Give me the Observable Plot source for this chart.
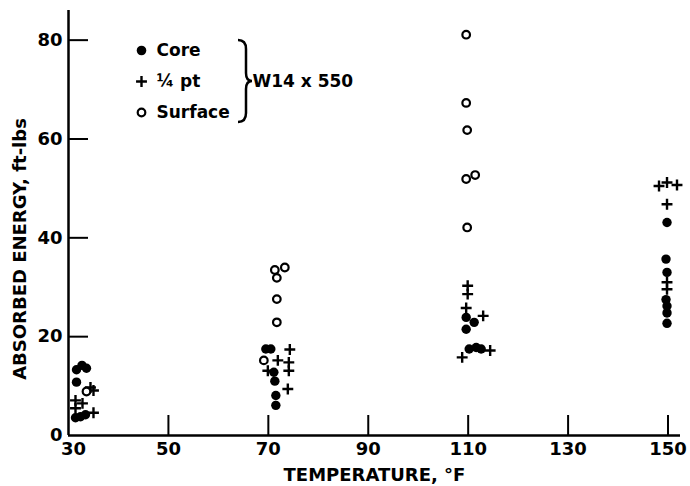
<!DOCTYPE html>
<html><head><meta charset="utf-8">
<script src="https://cdn.jsdelivr.net/npm/d3@7"></script>
<script src="https://cdn.jsdelivr.net/npm/@observablehq/plot@0.6"></script>
<style>body{margin:0;background:#fff}</style>
</head><body><div id="chart"></div>
<script>
const xTicks = [30, 50, 70, 90, 110, 130, 150];
const yTicks = [0, 20, 40, 60, 80];

const coreTemp   = [31.6,32.7,33.6,31.6,31.4,32.4,33.4, 69.5,70.5,71.1,71.3,71.5,71.5, 109.6,111.2,109.6,110.2,111.6,112.6, 149.8,149.6,149.8,149.6,149.8,149.8,149.8];
const coreEnergy = [13.3,14.2,13.6,10.8,3.6,3.8,4.2, 17.5,17.5,12.8,11.0,8.1,6.1, 23.9,22.9,21.5,17.5,17.8,17.5, 43.1,35.7,33.0,27.5,26.2,24.8,22.7];

const quarterTemp   = [34.4,35.0,31.4,31.4,32.8,35.0, 74.3,71.9,74.1,69.9,74.1,73.9, 109.9,109.9,109.6,113.0,108.8,114.4, 148.2,149.8,151.8,149.8,149.8,149.8];
const quarterEnergy = [9.7,9.1,7.1,5.5,6.5,4.6, 17.4,15.2,14.8,13.1,13.1,9.4, 30.3,28.6,25.8,24.2,15.8,17.2, 50.5,51.2,50.7,46.8,31.0,29.6];

const surfaceTemp   = [33.6, 71.3,73.3,71.7,71.7,71.7,69.1, 109.6,109.6,109.8,109.6,111.4,109.8];
const surfaceEnergy = [8.9, 33.5,34.0,31.9,27.6,22.9,15.2, 81.1,67.3,61.8,51.9,52.7,42.1];

const legendLabels = ["Core", "\u00BC pt", "Surface"];
const specimen = "W14 x 550";
const xTitle = "TEMPERATURE, \u00B0F";
const yTitle = "ABSORBED ENERGY, ft-lbs";

const toRows = (t, e) => t.map((v, i) => ({temp: v, energy: e[i]}));
const core = toRows(coreTemp, coreEnergy);
const quarter = toRows(quarterTemp, quarterEnergy);
const surface = toRows(surfaceTemp, surfaceEnergy);

const W = 690, H = 486, mL = 68, mR = 10, mT = 10, mB = 51;
const xDomain = [30, 152.5], yDomain = [0, 86];
const tickPx = 20;
const xTickLen = tickPx * (xDomain[1] - xDomain[0]) / (W - mL - mR);
const yTickLen = tickPx * (yDomain[1] - yDomain[0]) / (H - mT - mB);

const font = "DejaVu Sans";
const chart = Plot.plot({
  width: W, height: H,
  marginLeft: mL, marginRight: mR, marginTop: mT, marginBottom: mB,
  style: {fontFamily: font, fontWeight: "bold", color: "#000", background: "#fff", overflow: "visible"},
  x: {domain: xDomain, axis: null},
  y: {domain: yDomain, axis: null},
  marks: [
    // inward tick marks
    Plot.ruleX(xTicks.slice(1), {x: d => d, y1: yDomain[0], y2: yDomain[0] + yTickLen, strokeWidth: 2}),
    Plot.ruleY(yTicks.slice(1), {y: d => d, x1: xDomain[0], x2: xDomain[0] + xTickLen, strokeWidth: 2}),
    // tick labels
    Plot.text(xTicks.slice(0, 1), {x: d => d, y: yDomain[0], text: d => String(d), dx: 5, dy: 14, fontSize: 18, lineAnchor: "middle"}),
    Plot.text(xTicks.slice(1), {x: d => d, y: yDomain[0], text: d => String(d), dy: 14, fontSize: 18, lineAnchor: "middle"}),
    Plot.text(yTicks, {x: xDomain[0], y: d => d, text: d => String(d), dx: -6, textAnchor: "end", fontSize: 18, lineAnchor: "middle"}),
    // axis titles
    Plot.text([xTitle], {text: d => d, frameAnchor: "bottom", dy: 40, textAnchor: "middle", fontSize: 18, lineAnchor: "middle"}),
    Plot.text([yTitle], {text: d => d, frameAnchor: "left", dx: -48, dy: 26, rotate: -90, textAnchor: "middle", fontSize: 18, lineAnchor: "middle"}),
    // axis lines
    Plot.ruleX([xDomain[0]], {strokeWidth: 2.5}),
    Plot.ruleY([yDomain[0]], {strokeWidth: 2.5}),
    // data
    Plot.dot(core, {x: "temp", y: "energy", r: 4.7, fill: "black"}),
    Plot.dot(quarter, {x: "temp", y: "energy", symbol: "plus", r: 3.6, stroke: "black", strokeWidth: 2.4}),
    Plot.dot(surface, {x: "temp", y: "energy", r: 3.8, fill: "white", stroke: "black", strokeWidth: 2.2}),
    // legend
    Plot.dot([legendLabels[0]], {frameAnchor: "top-left", dx: 73, dy: 40, r: 4.8, fill: "black"}),
    Plot.dot([legendLabels[1]], {frameAnchor: "top-left", dx: 73, dy: 71, symbol: "plus", r: 3.6, stroke: "black", strokeWidth: 2.4}),
    Plot.dot([legendLabels[2]], {frameAnchor: "top-left", dx: 73, dy: 102, r: 3.8, fill: "white", stroke: "black", strokeWidth: 2.2}),
    Plot.text([legendLabels[0]], {text: d => d, frameAnchor: "top-left", dx: 88, dy: 40, textAnchor: "start", fontSize: 17, lineAnchor: "middle"}),
    Plot.text([legendLabels[1]], {text: d => d, frameAnchor: "top-left", dx: 88, dy: 71, textAnchor: "start", fontSize: 17, lineAnchor: "middle"}),
    Plot.text([legendLabels[2]], {text: d => d, frameAnchor: "top-left", dx: 88, dy: 102, textAnchor: "start", fontSize: 17, lineAnchor: "middle"}),
    Plot.text([specimen], {text: d => d, frameAnchor: "top-left", dx: 184, dy: 71, textAnchor: "start", fontSize: 17, lineAnchor: "middle"})
  ]
});
document.getElementById("chart").appendChild(chart);
// brace decoration grouping the legend entries
d3.select(chart).append("path")
  .attr("d", "M238,40 Q246,40 246,49 L246,73 Q246,81 252,81 Q246,81 246,89 L246,113 Q246,122 238,122")
  .attr("fill", "none").attr("stroke", "black").attr("stroke-width", 2.5);
</script>
</body></html>
